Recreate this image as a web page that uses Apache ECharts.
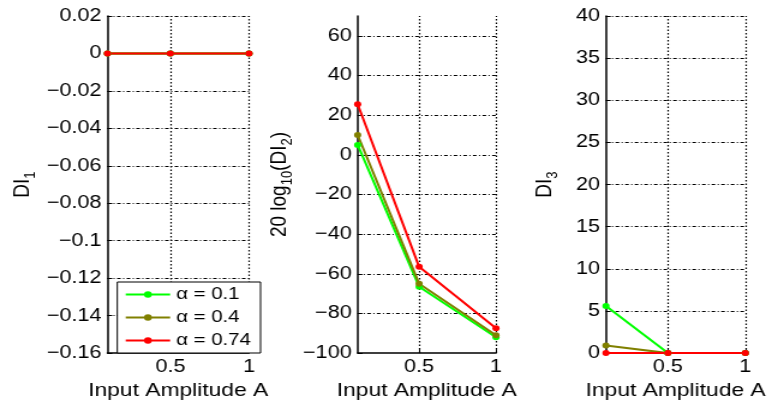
<!DOCTYPE html>
<html>
<head>
<meta charset="utf-8">
<script src="https://cdn.jsdelivr.net/npm/echarts@6/dist/echarts.min.js"></script>
<style>
html, body { margin: 0; padding: 0; background: #fff; overflow: hidden; }
/* the source figure is stretched sideways, so the canvas is too */
#main { width: 648px; height: 405px; transform: scaleX(1.2006); transform-origin: 0 0; }
</style>
</head>
<body>
<div id="main"></div>
<script>
// input amplitude A
const amplitude = [0.1, 0.5, 1]
const xTickValues = [0.5, 1]
const seriesNames = ['α = 0.1', 'α = 0.4', 'α = 0.74']
const seriesColors = ['#00ff00', '#808000', '#ff0000']

// DI1
const di1Alpha01 = [0, 0, 0]
const di1Alpha04 = [0, 0, 0]
const di1Alpha074 = [0, 0, 0]
// 20 log10(DI2)
const di2Alpha01 = [5, -66.5, -92]
const di2Alpha04 = [10, -65, -91]
const di2Alpha074 = [25.5, -56.5, -87.5]
// DI3
const di3Alpha01 = [5.6, 0, 0]
const di3Alpha04 = [0.9, 0, 0]
const di3Alpha074 = [0, 0, 0]

// y axis [min, max, step]
const di1Range = [-0.16, 0.02, 0.02]
const di2Range = [-100, 70, 20]
const di3Range = [0, 40, 5]

const FONT = '"Liberation Sans", Arial, sans-serif'

const chart = echarts.init(document.getElementById('main'))

function fmtY(v) {
  const n = Math.round(v * 1000) / 1000
  return String(n).replace('-', '\u2212')
}

// is max on the tick grid (otherwise it gets no label / line, as in the figure)
function maxOnStep(range) {
  const k = (range[1] - range[0]) / range[2]
  return Math.abs(k - Math.round(k)) < 1e-9
}

function xAxis(gridIndex) {
  return {
    type: 'value',
    gridIndex,
    min: 0.1,
    max: 1,
    name: 'Input Amplitude A',
    nameLocation: 'middle',
    nameGap: 24,
    nameTextStyle: { fontFamily: FONT, fontSize: 19, color: '#000' },
    axisLine: { show: true, onZero: false, lineStyle: { color: '#000', width: 1.5 } },
    axisTick: { show: true, inside: true, length: 4, customValues: xTickValues, lineStyle: { color: '#000' } },
    axisLabel: {
      customValues: xTickValues,
      margin: 5,
      fontFamily: FONT,
      fontSize: 18,
      color: '#000',
      formatter: (v) => String(v),
    },
    // vertical grid is drawn with markLine below
    splitLine: { show: false },
  }
}

function yAxis(gridIndex, range, name, nameGap) {
  return {
    type: 'value',
    gridIndex,
    min: range[0],
    max: range[1],
    interval: range[2],
    name,
    nameLocation: 'middle',
    nameRotate: 90,
    nameGap,
    nameTextStyle: {
      fontFamily: FONT,
      color: '#000',
      rich: {
        n: { fontFamily: FONT, fontSize: 19, color: '#000', verticalAlign: 'middle' },
        s: { fontFamily: FONT, fontSize: 13, color: '#000', lineHeight: 26, verticalAlign: 'bottom' },
      },
    },
    axisLine: { show: true, onZero: false, lineStyle: { color: '#000', width: 1.5 } },
    axisTick: { show: true, inside: true, length: 4, lineStyle: { color: '#000' } },
    axisLabel: {
      margin: 5,
      fontFamily: FONT,
      fontSize: 18,
      color: '#000',
      showMaxLabel: maxOnStep(range),
      formatter: fmtY,
    },
    splitLine: {
      show: true,
      showMinLine: false,
      showMaxLine: maxOnStep(range),
      lineStyle: { color: '#000', width: 1, type: [3, 2, 1, 2] },
    },
  }
}

function lineSeries(name, color, idx, values, withGrid) {
  const s = {
    name,
    type: 'line',
    xAxisIndex: idx,
    yAxisIndex: idx,
    data: amplitude.map((a, i) => [a, values[i]]),
    symbol: 'circle',
    symbolSize: 6,
    showSymbol: true,
    color,
    lineStyle: { color, width: 2 },
    itemStyle: { color },
    z: 3,
    animation: false,
  }
  if (withGrid) {
    s.markLine = {
      silent: true,
      symbol: 'none',
      label: { show: false },
      lineStyle: { color: '#000', width: 1.2, type: [1.5, 2] },
      z: 1,
      data: xTickValues.map((v) => ({ xAxis: v })),
    }
  }
  return s
}

const option = {
  backgroundColor: '#fff',
  animation: false,
  grid: [
    { left: 89.5, top: 16, width: 117.9, height: 343.5 },
    { left: 297.9, top: 16, width: 115.2, height: 345 },
    { left: 504.7, top: 16, width: 116.1, height: 343.3 },
  ],
  xAxis: [xAxis(0), xAxis(1), xAxis(2)],
  yAxis: [
    yAxis(0, di1Range, '{n|DI}{s|1}', 58),
    yAxis(1, di2Range, '{n|20 log}{s|10}{n|(DI}{s|2}{n|)}', 52),
    yAxis(2, di3Range, '{n|DI}{s|3}', 38),
  ],
  legend: {
    left: 97.7,
    top: 282,
    orient: 'vertical',
    backgroundColor: '#fff',
    borderColor: '#000',
    borderWidth: 1,
    borderRadius: 0,
    padding: [4, 8, 4, 6],
    itemGap: 6,
    itemWidth: 37,
    itemHeight: 8,
    textStyle: { fontFamily: FONT, fontSize: 17, color: '#000' },
    data: seriesNames,
  },
  series: [
    lineSeries(seriesNames[0], seriesColors[0], 0, di1Alpha01, true),
    lineSeries(seriesNames[1], seriesColors[1], 0, di1Alpha04),
    lineSeries(seriesNames[2], seriesColors[2], 0, di1Alpha074),
    lineSeries(seriesNames[0], seriesColors[0], 1, di2Alpha01, true),
    lineSeries(seriesNames[1], seriesColors[1], 1, di2Alpha04),
    lineSeries(seriesNames[2], seriesColors[2], 1, di2Alpha074),
    lineSeries(seriesNames[0], seriesColors[0], 2, di3Alpha01, true),
    lineSeries(seriesNames[1], seriesColors[1], 2, di3Alpha04),
    lineSeries(seriesNames[2], seriesColors[2], 2, di3Alpha074),
  ],
}

chart.setOption(option)
</script>
</body>
</html>
